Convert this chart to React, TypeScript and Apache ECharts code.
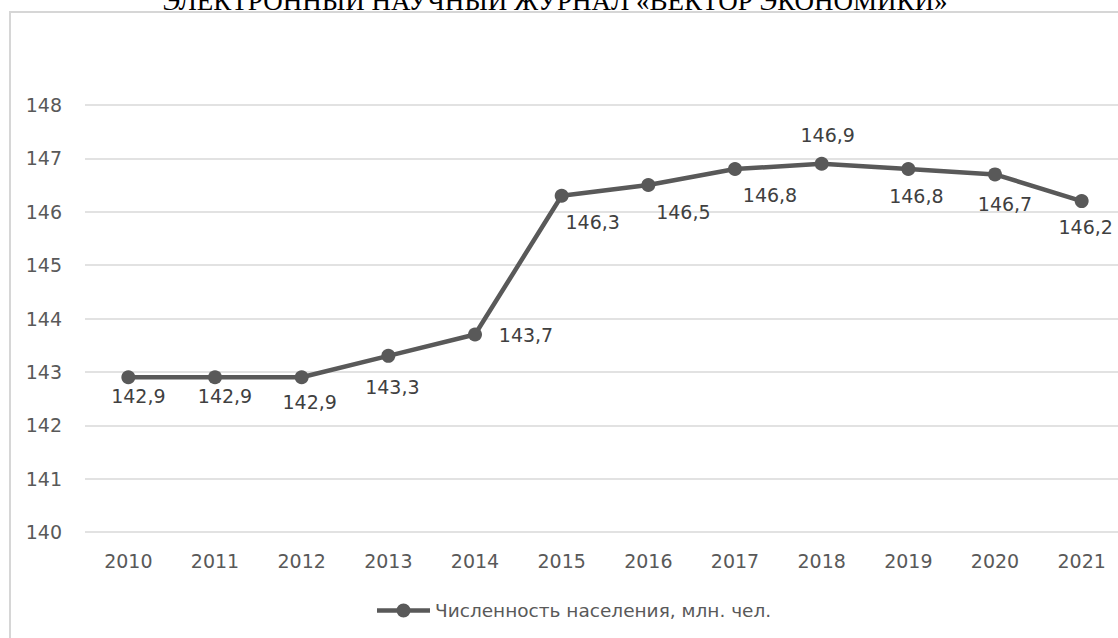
import React, { useEffect, useRef } from "react";
import * as echarts from "echarts";

const years = ["2010", "2011", "2012", "2013", "2014", "2015", "2016", "2017", "2018", "2019", "2020", "2021"];
const population = [142.9, 142.9, 142.9, 143.3, 143.7, 146.3, 146.5, 146.8, 146.9, 146.8, 146.7, 146.2];
const seriesName = "Численность населения, млн. чел.";
const headerText = "ЭЛЕКТРОННЫЙ НАУЧНЫЙ ЖУРНАЛ «ВЕКТОР ЭКОНОМИКИ»";
const yMin = 140;
const yMax = 148;
const yStep = 1;

// label placement (offset of label centre from point), style only
const labelOffsets: [number, number][] = [
  [10, 19], [10, 19], [8, 25], [4, 31], [51, 0], [31, 26],
  [35, 27], [35, 26], [6, -29], [8, 27], [10, 30], [4, 26],
];

const FONT = "DejaVu Sans";
const GRAY = "#595959";
const legendIcon =
  "path://M0,4.75H53V9.25H0Z M19.5,7A7,7 0 1,1 33.5,7A7,7 0 1,1 19.5,7Z";

export default function App() {
  const ref = useRef<HTMLDivElement>(null);
  useEffect(() => {
    if (!ref.current) return;
    const chart = echarts.init(ref.current, null, { renderer: "svg" });
    chart.setOption({
      animation: false,
      backgroundColor: "#ffffff",
      graphic: [
        {
          type: "rect",
          z: -1,
          shape: { x: 10, y: 12, width: 1300, height: 800 },
          style: { fill: "none", stroke: "#d6d6d6", lineWidth: 2 },
        },
        {
          type: "text",
          x: 555,
          y: 14.5,
          style: {
            text: headerText,
            font: '27px "Liberation Serif"',
            fill: "#000000",
            textAlign: "center",
            textVerticalAlign: "bottom",
          },
        },
      ],
      grid: { left: 85, right: 5, top: 105, bottom: 106, containLabel: false },
      legend: {
        show: true,
        left: 372,
        top: 596,
        itemWidth: 53,
        itemHeight: 14,
        icon: legendIcon,
        textStyle: { fontFamily: FONT, fontSize: 18.5, color: GRAY },
        data: [seriesName],
      },
      xAxis: {
        type: "category",
        data: years,
        boundaryGap: true,
        axisLine: { show: false },
        axisTick: { show: false },
        axisLabel: { fontFamily: FONT, fontSize: 19, color: GRAY, margin: 19 },
      },
      yAxis: {
        type: "value",
        min: yMin,
        max: yMax,
        interval: yStep,
        axisLine: { show: false },
        axisTick: { show: false },
        axisLabel: { fontFamily: FONT, fontSize: 19, color: GRAY, margin: 23 },
        splitLine: { lineStyle: { color: "#d9d9d9", width: 1.5 } },
      },
      series: [
        {
          name: seriesName,
          type: "line",
          data: population.map((v, i) => ({ value: v, label: { offset: labelOffsets[i] } })),
          symbol: "circle",
          symbolSize: 14,
          lineStyle: { color: GRAY, width: 4.5 },
          itemStyle: { color: GRAY },
          label: {
            show: true,
            position: "inside",
            align: "center",
            verticalAlign: "middle",
            fontFamily: FONT,
            fontSize: 19,
            color: "#404040",
            formatter: (p: any) => String(p.value).replace(".", ","),
          },
        },
      ],
    });
    return () => chart.dispose();
  }, []);
  return (
    <div style={{ position: "fixed", left: 0, top: 0, width: 1118, height: 638, overflow: "hidden", background: "#fff" }}>
      <div ref={ref} style={{ width: 1130, height: 638 }} />
    </div>
  );
}
